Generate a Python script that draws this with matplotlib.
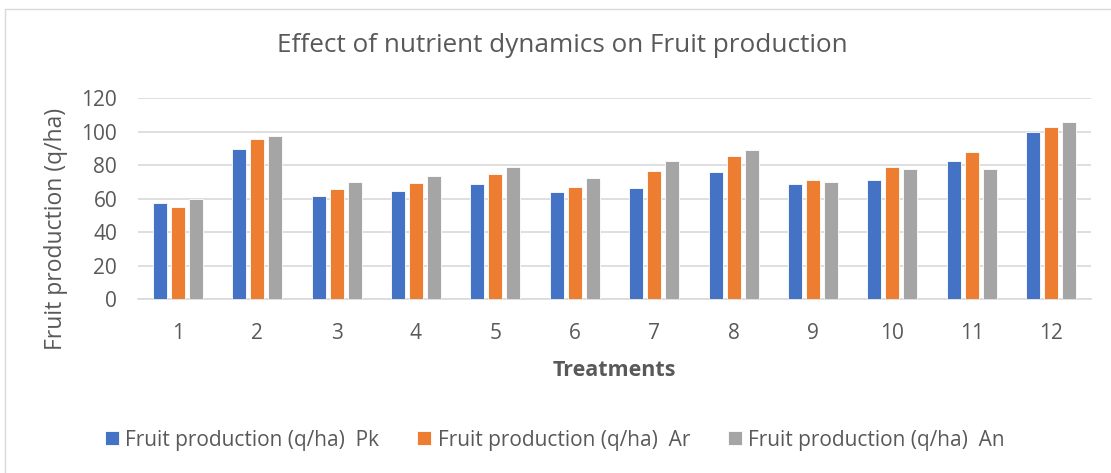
import numpy as np
import matplotlib.pyplot as plt
from matplotlib.patches import Rectangle

treatments = ["1", "2", "3", "4", "5", "6", "7", "8", "9", "10", "11", "12"]
pk = [57.2, 89.4, 61.4, 64.6, 68.6, 63.6, 66.2, 75.6, 68.6, 71.2, 82.2, 99.6]
ar = [54.8, 95.6, 65.6, 69.0, 74.4, 66.6, 76.4, 85.6, 71.2, 78.6, 87.8, 102.6]
an = [59.8, 97.2, 69.8, 73.4, 78.8, 72.2, 82.6, 89.0, 69.6, 77.4, 77.8, 105.4]
series_names = ["Fruit production (q/ha)  Pk",
                "Fruit production (q/ha)  Ar",
                "Fruit production (q/ha)  An"]
colors = ["#4472C4", "#ED7D31", "#A5A5A5"]

plt.rcParams["font.family"] = ["Open Sans", "DejaVu Sans"]
txt = "#595959"

W, H = 1111, 473
fig = plt.figure(figsize=(W / 100, H / 100), dpi=100)
ax = fig.add_axes([138 / W, 1 - 299 / H, 953 / W, 201 / H])

x = np.arange(len(treatments))
w = 0.176
gap = 0.227
for i, (vals, name, c) in enumerate(zip([pk, ar, an], series_names, colors)):
    ax.bar(x + (i - 1) * gap, vals, width=w, color=c, label=name,
           edgecolor="white", linewidth=0.6, zorder=3)

ax.set_xlim(-0.5, len(treatments) - 0.5)
ax.set_ylim(0, 120)
ax.set_yticks(range(0, 121, 20))
ax.set_xticks(x)
ax.set_xticklabels(treatments)
ax.grid(axis="y", color="#D9D9D9", linewidth=1.2, zorder=0)
for s in ["top", "right", "left"]:
    ax.spines[s].set_visible(False)
ax.spines["bottom"].set_color("#D9D9D9")
ax.spines["bottom"].set_linewidth(1.2)
ax.tick_params(axis="both", length=0, labelsize=15, colors=txt)
ax.tick_params(axis="x", pad=17)
ax.tick_params(axis="y", pad=15)

ax.set_xlabel("Treatments", fontsize=15.5, fontweight="bold", color=txt, labelpad=12)
ax.set_ylabel("Fruit production (q/ha)", fontsize=16.5, color=txt)
ax.yaxis.set_label_coords(-(138 - 68) / 953, (299 - 229) / 201)

fig.text(562 / W, 1 - 46 / H, "Effect of nutrient dynamics on Fruit production",
         ha="center", va="center", fontsize=18.8, color=txt)

leg = fig.legend(loc="center", bbox_to_anchor=(555 / W, 1 - 440 / H), ncol=3,
                 frameon=False, fontsize=15, handlelength=0.67, handleheight=0.67,
                 columnspacing=1.83, handletextpad=0.3)
for t in leg.get_texts():
    t.set_color(txt)

fig.patches.append(Rectangle((5 / W, -0.1), 1.2, 1 - 9.5 / H + 0.1,
                             transform=fig.transFigure, fill=False,
                             edgecolor="#D9D9D9", linewidth=1))

fig.savefig("out.png", dpi=100)
